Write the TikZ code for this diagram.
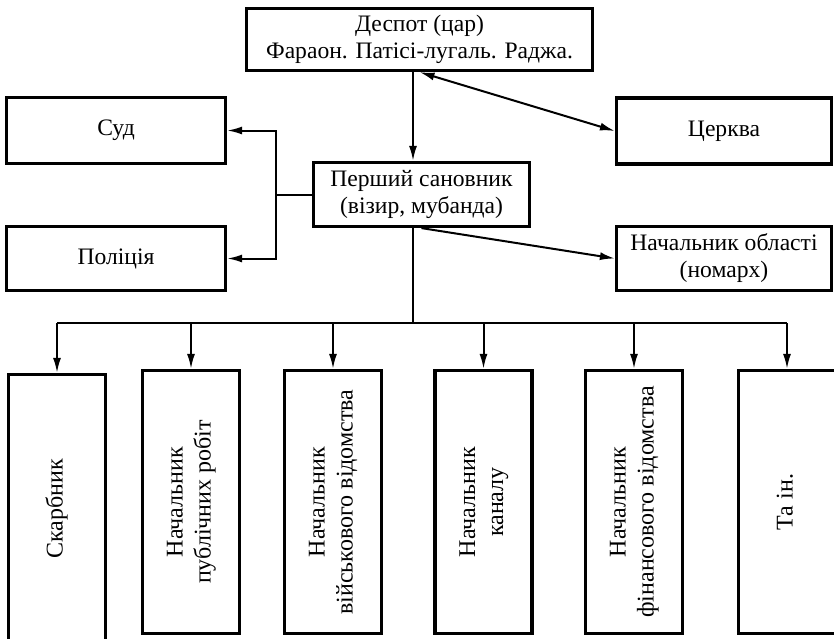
\documentclass[tikz,border=0pt]{standalone}
\usepackage{fontspec}
\setmainfont{Liberation Serif}
\usetikzlibrary{arrows.meta}

\newcommand{\vlabel}[1]{\rotatebox{90}{\begin{tabular}{@{}c@{}}#1\end{tabular}}}

\tikzset{
  box/.style={draw, line width=1.6pt, align=center, inner sep=2pt,
    font=\fontsize{11.8}{13.5}\selectfont},
  tallbox/.style={box, minimum width=48.5pt, minimum height=131.5pt,
    font=\fontsize{12}{14}\selectfont},
  link/.style={line width=1pt},
  arr/.style={link, -{Latex[length=7.5pt,width=4pt]}},
  darr/.style={link, {Latex[length=7.5pt,width=4pt]}-{Latex[length=7.5pt,width=4pt]}}
}

\begin{document}
\begin{tikzpicture}[x=0.5pt, y=-0.5pt]
    % Frame of the picture
    \useasboundingbox (0,0) rectangle (834,638);
    \clip (0,0) rectangle (834,638);

    % Head of the state
    \node[box, minimum width=173pt, minimum height=31pt] (despot) at (419.5,39.5)
        {Деспот (цар)\\Фараон. Патісі-лугаль. Раджа.};

    % Second level
    \node[box, minimum width=109.5pt, minimum height=33pt] (sud) at (116,130.5) {Суд};
    \node[box, minimum width=109.5pt, minimum height=32pt] (police) at (116,258.5) {Поліція};
    \node[box, minimum width=108pt, minimum height=32pt] (vizier) at (421.5,194.5)
        {Перший сановник\\(візир, мубанда)};
    \node[box, minimum width=107.5pt, minimum height=33pt] (church) at (724,131) {Церква};
    \node[box, minimum width=107.5pt, minimum height=32pt] (nomarch) at (724,258.5)
        {Начальник області\\(номарх)};

    % Officials below the vizier
    \node[tallbox, minimum height=134.5pt] (treasurer) at (57,509) {\vlabel{Скарбник}};
    \node[tallbox] (works) at (191,502) {\vlabel{Начальник\\публічних робіт}};
    \node[tallbox] (army) at (333,502) {\vlabel{Начальник\\військового відомства}};
    \node[tallbox] (canal) at (483.5,502) {\vlabel{Начальник\\каналу}};
    \node[tallbox] (finance) at (634,502) {\vlabel{Начальник\\фінансового відомства}};
    \node[tallbox] (others) at (787,502) {\vlabel{Та ін.}};

    % Trunk and bus
    \coordinate (trunk) at (413,0);
    \coordinate (bus) at (413,323);
    \coordinate (fork) at (276,194.5);

    % Connectors from the top
    \draw[arr] (despot.south -| trunk) -- (vizier.north -| trunk);
    \draw[darr] (despot.south) -- (church.west);
    \draw[arr] (vizier.south) -- (nomarch.west);

    % Fork to the court and police
    \draw[link] (vizier.west) -- (fork);
    \draw[arr] (fork) |- (sud.east);
    \draw[arr] (fork) |- (police.east);

    % Bus to the officials
    \draw[link] (vizier.south -| trunk) -- (bus);
    \draw[link] (bus -| treasurer) -- (bus -| others);
    \draw[arr] (bus -| treasurer) -- (treasurer.north);
    \draw[arr] (bus -| works) -- (works.north);
    \draw[arr] (bus -| army) -- (army.north);
    \draw[arr] (bus -| canal) -- (canal.north);
    \draw[arr] (bus -| finance) -- (finance.north);
    \draw[arr] (bus -| others) -- (others.north);

\end{tikzpicture}
\end{document}
